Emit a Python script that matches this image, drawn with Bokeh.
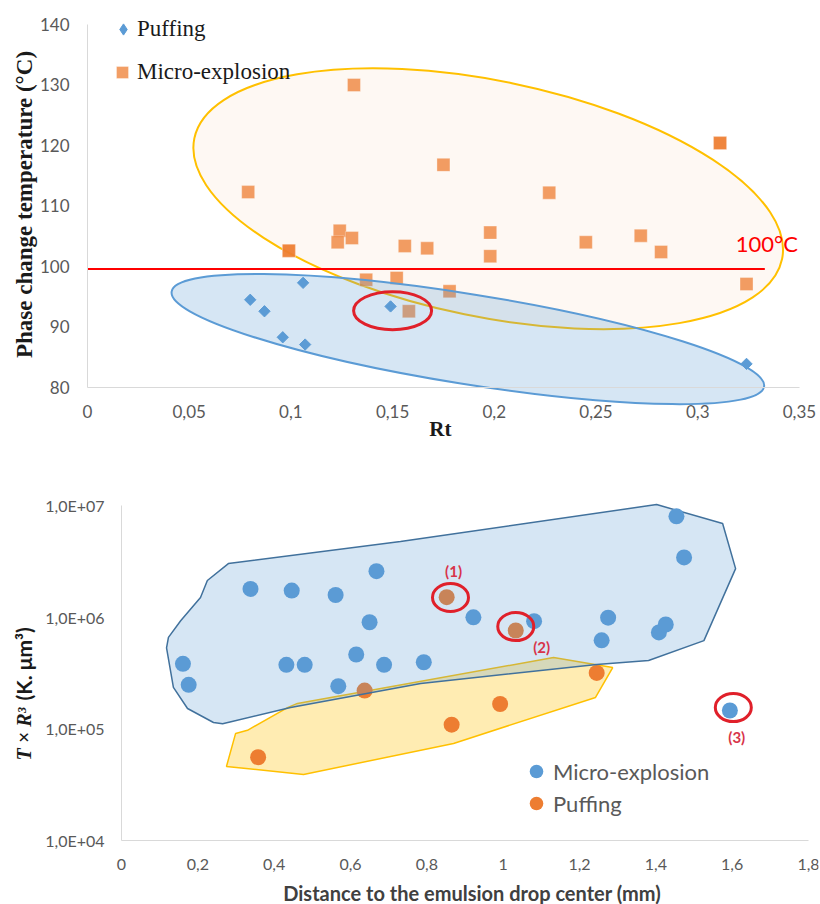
import math
import numpy as np
from bokeh.plotting import figure
from bokeh.models import FixedTicker, Legend, LegendItem, Range1d, Label
from bokeh.layouts import column
from bokeh.embed import file_html
from bokeh.resources import INLINE
from bokeh.core.properties import value

# ---------------- top chart data ----------------
rt_ticks = [0, 0.05, 0.1, 0.15, 0.2, 0.25, 0.3, 0.35]
rt_tick_labels = ["0", "0,05", "0,1", "0,15", "0,2", "0,25", "0,3", "0,35"]
temp_ticks = [80, 90, 100, 110, 120, 130, 140]

puff_rt = [0.080, 0.087, 0.096, 0.106, 0.107, 0.149, 0.324]
puff_temp = [94.5, 92.6, 88.3, 97.3, 87.1, 93.4, 83.9]

micro_rt = [0.079, 0.099, 0.099, 0.124, 0.123, 0.130, 0.131, 0.137, 0.152,
            0.156, 0.158, 0.167, 0.175, 0.178, 0.198, 0.198, 0.227, 0.245,
            0.272, 0.282, 0.311, 0.311, 0.324]
micro_temp = [112.3, 102.6, 102.6, 105.9, 104.0, 104.7, 130.0, 97.8, 98.1,
              103.4, 92.6, 103.0, 116.8, 95.9, 105.6, 101.7, 112.2, 104.0,
              105.1, 102.4, 120.4, 120.4, 97.1]

limit_rt = [0.0, 0.333]
limit_temp = [99.6, 99.6]
limit_label = ["100°C"]
limit_label_rt = [0.334]
limit_label_temp = [103.8]

# zones (centre in data units)
micro_zone_rt, micro_zone_temp = [0.197], [111.2]
puff_zone_rt, puff_zone_temp = [0.187], [88.0]
focus_rt, focus_temp = [0.150], [92.7]

# ---------------- bottom chart data ----------------
dist_ticks = [0, 0.2, 0.4, 0.6, 0.8, 1.0, 1.2, 1.4, 1.6, 1.8]
dist_tick_labels = ["0", "0,2", "0,4", "0,6", "0,8", "1", "1,2", "1,4", "1,6", "1,8"]
tr3_ticks = [1e4, 1e5, 1e6, 1e7]
tr3_tick_labels = ["1,0E+04", "1,0E+05", "1,0E+06", "1,0E+07"]

micro_dist = [0.161, 0.176, 0.338, 0.432, 0.446, 0.480, 0.561, 0.568, 0.615,
              0.650, 0.668, 0.688, 0.792, 0.922, 1.081, 1.258, 1.275, 1.408,
              1.426, 1.454, 1.474, 1.594]
micro_tr3 = [3.82e5, 2.48e5, 1.79e6, 3.74e5, 1.73e6, 3.74e5, 1.58e6, 2.41e5,
             4.63e5, 9.0e5, 2.58e6, 3.74e5, 3.95e5, 9.97e5, 9.2e5, 6.2e5,
             9.9e5, 7.3e5, 8.6e5, 8.0e6, 3.43e6, 1.46e5]

puff_dist = [0.358, 0.637, 0.852, 0.865, 0.992, 1.033, 1.245]
puff_tr3 = [5.57e4, 2.2e5, 1.51e6, 1.09e5, 1.67e5, 7.6e5, 3.17e5]

micro_hull_dist = [0.280, 0.225, 0.207, 0.155, 0.123, 0.118, 0.136, 0.173, 0.241,
                   0.265, 0.443, 0.784, 1.245, 1.381, 1.526, 1.609, 1.575, 1.402, 0.731]
micro_hull_tr3 = [3.02e6, 2.13e6, 1.50e6, 9.3e5, 6.6e5, 5.3e5, 2.35e5, 1.52e5, 1.14e5,
                  1.11e5, 1.55e5, 2.55e5, 3.77e5, 4.09e5, 6.17e5, 2.72e6, 6.89e6, 1.02e7, 4.75e6]
puff_hull_dist = [0.275, 0.299, 0.330, 0.435, 0.461, 1.132, 1.287, 1.242, 0.870, 0.477]
puff_hull_tr3 = [4.6e4, 9.1e4, 9.7e4, 1.55e5, 1.69e5, 4.35e5, 3.54e5, 1.91e5, 7.4e4, 3.9e4]

mark_dist = [0.862, 1.033, 1.603]
mark_tr3 = [1.50e6, 8.24e5, 1.55e5]
mark_text = ["(1)", "(2)", "(3)"]
mark_label_dist = [0.870, 1.101, 1.612]
mark_label_tr3 = [2.57e6, 5.46e5, 8.5e4]

BLUE = "#5B9BD5"
ORANGE = "#ED7D31"
GREY = "#595959"
AXIS = "#D9D9D9"
INK = "#1a1a1a"


def style_axis(ax, size, standoff):
    ax.axis_line_color = AXIS
    ax.axis_line_width = 1
    ax.major_tick_line_color = None
    ax.minor_tick_line_color = None
    ax.major_tick_out = 0
    ax.major_tick_in = 0
    ax.minor_tick_out = 0
    ax.minor_tick_in = 0
    ax.major_label_text_font = "Lato"
    ax.major_label_text_font_size = size
    ax.major_label_text_color = GREY
    ax.major_label_standoff = standoff


def one_legend(label, renderer, loc, box, font, size, color):
    return Legend(items=[LegendItem(label=label, renderers=[renderer])],
                  location=loc, glyph_width=box, glyph_height=box,
                  label_standoff=0, padding=0, margin=0, spacing=0,
                  border_line_color=None, background_fill_alpha=0,
                  label_text_font=font, label_text_font_size=size,
                  label_text_color=color, label_text_baseline="middle")


# ================= TOP FIGURE =================
p1 = figure(width=820, height=478, output_backend="svg", toolbar_location=None,
            x_range=Range1d(-0.04179, 0.35939), y_range=Range1d(66.28, 143.14),
            min_border_left=2, min_border_right=2, min_border_top=5,
            min_border_bottom=8)
p1.outline_line_color = None
p1.grid.visible = False

p1.xaxis.fixed_location = 80
p1.xaxis.bounds = (0, 0.35)
p1.xaxis.ticker = FixedTicker(ticks=rt_ticks)
p1.xaxis.major_label_overrides = {t: l for t, l in zip(rt_ticks, rt_tick_labels)}
style_axis(p1.xaxis[0], "17px", 18)

p1.yaxis.fixed_location = 0
p1.yaxis.bounds = (80, 140)
p1.yaxis.ticker = FixedTicker(ticks=temp_ticks)
style_axis(p1.yaxis[0], "17px", 18)

p1.add_layout(Label(x=-0.031, y=110.25, text="Phase change temperature (°C)",
                    angle=math.pi / 2, text_align="center", text_baseline="middle",
                    text_font="Liberation Serif", text_font_style="bold",
                    text_font_size="23px", text_color=INK))
p1.add_layout(Label(x=0.1735, y=73.2, text="Rt", text_align="center",
                    text_baseline="middle", text_font="Liberation Serif",
                    text_font_style="bold", text_font_size="21px", text_color=INK))

# micro-explosion zone
p1.ellipse(x=micro_zone_rt, y=micro_zone_temp, width=600, height=236,
           angle=-0.2025, width_units="screen", height_units="screen",
           fill_color="#FEF8F3", fill_alpha=1.0, line_color="#FFC000", line_width=2)
r_micro = p1.scatter(micro_rt, micro_temp, marker="square", size=13,
                     fill_color=ORANGE, fill_alpha=0.75, line_color="white",
                     line_alpha=0.4, line_width=0.8)
# puffing zone
p1.ellipse(x=puff_zone_rt, y=puff_zone_temp, width=600, height=90,
           angle=-0.159, width_units="screen", height_units="screen",
           fill_color=BLUE, fill_alpha=0.25, line_color=BLUE, line_width=2)
p1.scatter(puff_rt, puff_temp, marker="square", angle=math.pi / 4, size=8,
           fill_color=BLUE, line_color=BLUE)
# legend key for the diamonds (not plotted: NaN position)
r_puff_key = p1.scatter(np.array([np.nan]), np.array([np.nan]), marker="diamond",
                        size=12, fill_color=BLUE, line_color=BLUE)
p1.line(limit_rt, limit_temp, line_color="#FF0000", line_width=2)
p1.text(limit_label_rt, limit_label_temp, text=limit_label, text_font=value("Lato"),
        text_font_size="22px", text_color="#FF0000", text_align="center",
        text_baseline="middle")
p1.ellipse(x=focus_rt, y=focus_temp, width=78, height=38,
           width_units="screen", height_units="screen",
           fill_color=None, line_color="#E0202A", line_width=3)

p1.add_layout(one_legend("Puffing", r_puff_key, (107, 427), 28,
                         "Liberation Serif", "23px", INK))
p1.add_layout(one_legend("Micro-explosion", r_micro, (105, 383), 30,
                         "Liberation Serif", "23px", INK))

# ================= BOTTOM FIGURE =================
p2 = figure(width=820, height=426, output_backend="svg", toolbar_location=None,
            x_range=Range1d(-0.31179, 1.82620), y_range=Range1d(2673, 1.574e7),
            y_axis_type="log",
            min_border_left=2, min_border_right=2, min_border_top=5,
            min_border_bottom=0)
p2.outline_line_color = None
p2.grid.visible = False

p2.xaxis.fixed_location = 1e4
p2.xaxis.bounds = (0, 1.8)
p2.xaxis.ticker = FixedTicker(ticks=dist_ticks)
p2.xaxis.major_label_overrides = {t: l for t, l in zip(dist_ticks, dist_tick_labels)}
style_axis(p2.xaxis[0], "16px", 18)

p2.yaxis.fixed_location = 0
p2.yaxis.bounds = (1e4, 1e7)
p2.yaxis.ticker = FixedTicker(ticks=tr3_ticks)
p2.yaxis.major_label_overrides = {t: l for t, l in zip(tr3_ticks, tr3_tick_labels)}
style_axis(p2.yaxis[0], "16px", 17)

p2.add_layout(Label(x=0.9188, y=3354, text="Distance to the emulsion drop center (mm)",
                    text_align="center", text_baseline="middle", text_font="Lato",
                    text_font_style="bold", text_font_size="20px", text_color="#404040"))
p2.add_layout(Label(x=-0.2567, y=5.21e4, text="T × R³", angle=math.pi / 2,
                    text_align="left", text_baseline="middle",
                    text_font="Liberation Serif", text_font_style="bold italic",
                    text_font_size="20px", text_color=INK))
p2.add_layout(Label(x=-0.2567, y=1.794e5, text="(K. μm³)", angle=math.pi / 2,
                    text_align="left", text_baseline="middle",
                    text_font="Lato", text_font_style="bold",
                    text_font_size="21px", text_color=INK))

p2.patch(puff_hull_dist, puff_hull_tr3, fill_color="#FFC000", fill_alpha=0.3,
         line_color="#FFC000", line_width=1.5)
r_p2 = p2.scatter(puff_dist, puff_tr3, marker="circle", size=16,
                  fill_color=ORANGE, line_color=None)
p2.patch(micro_hull_dist, micro_hull_tr3, fill_color=BLUE, fill_alpha=0.25,
         line_color="#41719C", line_width=1.5)
r_m2 = p2.scatter(micro_dist, micro_tr3, marker="circle", size=16,
                  fill_color=BLUE, line_color=None)
p2.ellipse(x=mark_dist, y=mark_tr3, width=36, height=28,
           width_units="screen", height_units="screen",
           fill_color=None, line_color="#E0202A", line_width=3)
p2.text(mark_label_dist, mark_label_tr3, text=mark_text, text_font=value("Lato"),
        text_font_style="bold", text_font_size="15px", text_color="#D8344A",
        text_align="center", text_baseline="middle")

p2.add_layout(one_legend("Micro-explosion", r_m2, (517, 116), 34, "Lato", "22px", GREY))
p2.add_layout(one_legend("Puffing", r_p2, (517, 84), 34, "Lato", "22px", GREY))

layout = column(p1, p2, spacing=0)
open("out.html", "w").write(file_html(layout, INLINE))
